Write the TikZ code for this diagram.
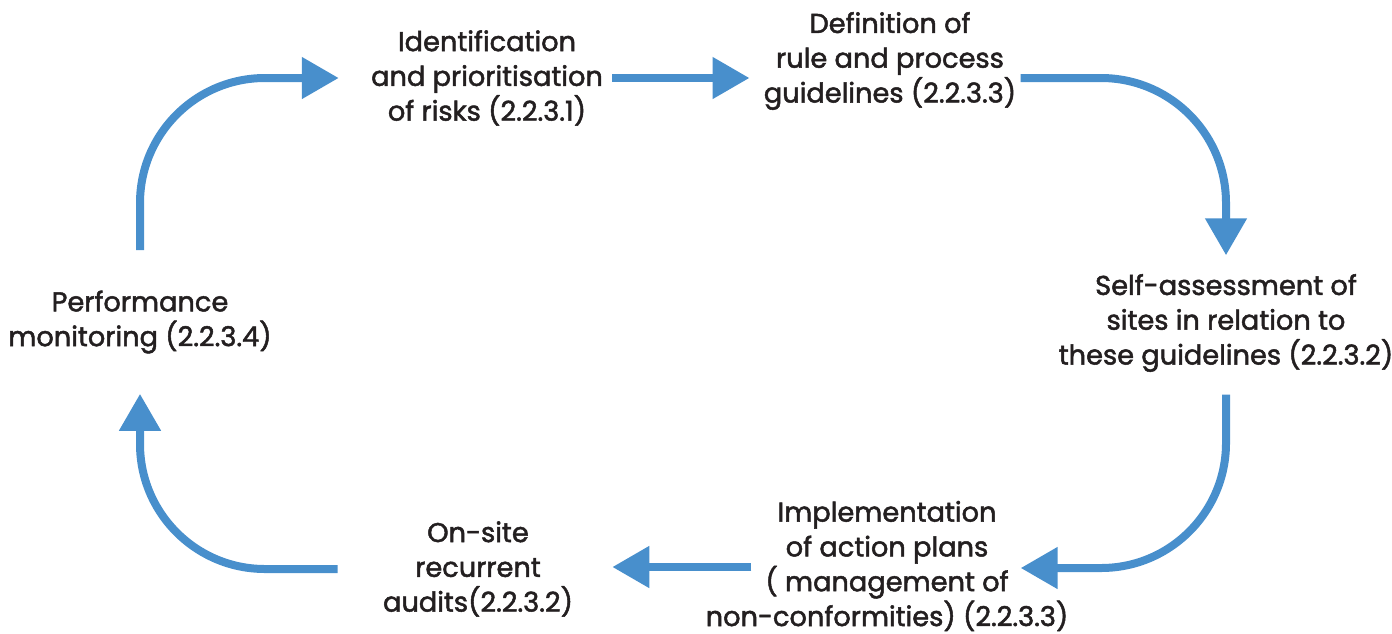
\documentclass[tikz,border=0pt]{standalone}
\usepackage{fontspec}
\setmainfont{Poppins}[FakeBold=1.8]
\usepackage{tikz}
\usepackage{xcolor}
\usetikzlibrary{arrows.meta, positioning, calc}
\definecolor{flowblue}{RGB}{72,143,204}
\definecolor{textdark}{RGB}{35,31,32}

\begin{document}
\begin{tikzpicture}[
        x=0.02cm, y=-0.02cm,
        stage/.style={inner sep=0pt, align=center, text=textdark, font=\fontsize{15.5}{19.8}\selectfont},
        flow/.style={-{Triangle[length=0.74cm, width=0.8cm]}, line width=0.16cm, draw=flowblue, rounded corners=2.5cm}
    ]
        \useasboundingbox (0,0) rectangle (1392,633);

        % Stages of the cycle
        \node[stage] (risk) at (487,78) {Identification\\and prioritisation\\of risks (2.2.3.1)};
        \node[stage] (rules) at (890,61) {Definition of\\rule and process\\guidelines (2.2.3.3)};
        \node[stage] (self) at (1226,323) {Self-assessment of\\sites in relation to\\these guidelines (2.2.3.2)};
        \node[stage] (impl) at (887,566) {Implementation\\of action plans\\( management of\\non-conformities) (2.2.3.3)};
        \node[stage] (audit) at (478,569) {On-site\\recurrent\\audits(2.2.3.2)};
        \node[stage] (perf) at (140,322) {Performance\\monitoring (2.2.3.4)};

        % Arrow ends beside the implementation box
        \coordinate (implin) at ($(impl.east)+(-48,2)$);
        \coordinate (implout) at ($(impl.west)+(46,1)$);

        % Arrows
        \draw[flow, shorten <=0.8cm, shorten >=0.64cm] (perf.north) |- (risk.west);
        \draw[flow, shorten <=0.18cm, shorten >=0.28cm] (risk.east) -- (risk.east -| rules.west);
        \draw[flow, shorten <=0.08cm, shorten >=0.37cm] (rules.east |- risk.east) -| (self.north);
        \draw[flow, shorten <=0.45cm] (self.south) |- (implin);
        \draw[flow, shorten >=0.78cm] (implout) -- (implout -| audit.east);
        \draw[flow, shorten <=0.9cm, shorten >=0.8cm] (audit.west) -| (perf.south);

    \end{tikzpicture}
\end{document}
